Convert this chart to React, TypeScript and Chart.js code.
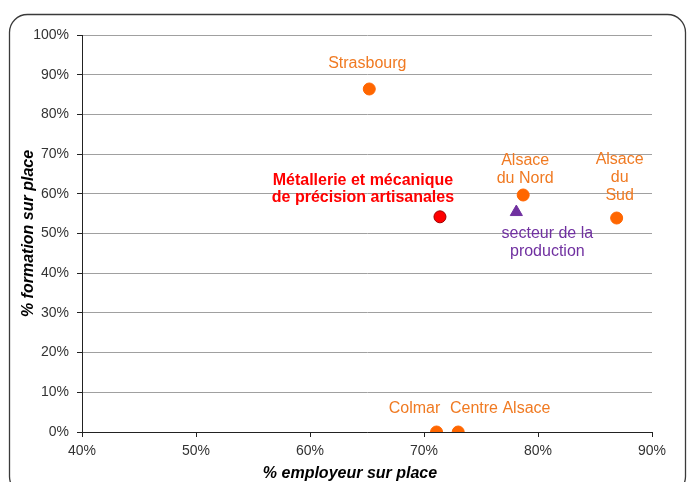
import React, { useEffect, useRef } from "react";
import { Chart, registerables } from "chart.js";

Chart.register(...registerables);

// ---- Data ----
const regionNames = ["Strasbourg", "Colmar", "Centre Alsace", "Alsace du Nord", "Alsace du Sud"];
const regionEmployeur = [65.2, 71.1, 73.0, 78.7, 86.9];
const regionFormation = [86.4, 0, 0, 59.7, 53.9];

const secteurName = "secteur de la production";
const secteurEmployeur = [78.1];
const secteurFormation = [55.4];

const metierName = "Métallerie et mécanique de précision artisanales";
const metierEmployeur = [71.4];
const metierFormation = [54.2];

const xTicks = [40, 50, 60, 70, 80, 90];
const yTicks = [0, 10, 20, 30, 40, 50, 60, 70, 80, 90, 100];
const xTitle = "% employeur sur place";
const yTitle = "% formation sur place";

// label layout (lines, and offset of first line centre from the point)
const regionLabelLines = [["Strasbourg"], ["Colmar"], ["Centre Alsace"], ["Alsace", "du Nord"], ["Alsace", "du", "Sud"]];
const regionLabelOffsets = [[-2, -25], [-22, -23], [42, -23], [2, -34], [3, -58]];
const secteurLabelLines = ["secteur de la", "production"];
const secteurLabelOffset = [31, 22];
const metierLabelLines = ["Métallerie et mécanique", "de précision artisanales"];
const metierLabelOffset = [-77, -36];

const FONT = "'Liberation Sans', Arial, Helvetica, sans-serif";
const ORANGE_TEXT = "#F07A22";
const ORANGE_PT = "#FF6600";
const PURPLE = "#7030A0";
const RED = "#FF0000";

const framePlugin = {
  id: "frame",
  beforeDraw(chart: any) {
    const ctx = chart.ctx;
    ctx.save();
    ctx.fillStyle = "#ffffff";
    ctx.fillRect(0, 0, chart.width, chart.height);
    const x = 9.5, y = 14.5, w = 676, h = 480, r = 18;
    ctx.beginPath();
    ctx.moveTo(x + r, y);
    ctx.lineTo(x + w - r, y);
    ctx.arcTo(x + w, y, x + w, y + r, r);
    ctx.lineTo(x + w, y + h - r);
    ctx.arcTo(x + w, y + h, x + w - r, y + h, r);
    ctx.lineTo(x + r, y + h);
    ctx.arcTo(x, y + h, x, y + h - r, r);
    ctx.lineTo(x, y + r);
    ctx.arcTo(x, y, x + r, y, r);
    ctx.closePath();
    ctx.strokeStyle = "#3a3a3a";
    ctx.lineWidth = 1.3;
    ctx.stroke();
    ctx.restore();
  },
};

const labelsPlugin = {
  id: "pointLabels",
  afterDatasetsDraw(chart: any) {
    const ctx = chart.ctx;
    const xs = chart.scales.x;
    const ys = chart.scales.y;
    const drawBlock = (px: number, py: number, lines: string[], off: number[], color: string, font: string, lh: number) => {
      ctx.fillStyle = color;
      ctx.font = font;
      ctx.textAlign = "center";
      ctx.textBaseline = "middle";
      lines.forEach((l, i) => ctx.fillText(l, px + off[0], py + off[1] + i * lh));
    };
    ctx.save();
    regionNames.forEach((_, i) => {
      const px = xs.getPixelForValue(regionEmployeur[i]);
      const py = ys.getPixelForValue(regionFormation[i]);
      drawBlock(px, py, regionLabelLines[i], regionLabelOffsets[i], ORANGE_TEXT, `16px ${FONT}`, 18);
    });
    drawBlock(xs.getPixelForValue(secteurEmployeur[0]), ys.getPixelForValue(secteurFormation[0]),
      secteurLabelLines, secteurLabelOffset, PURPLE, `16px ${FONT}`, 18);
    drawBlock(xs.getPixelForValue(metierEmployeur[0]), ys.getPixelForValue(metierFormation[0]),
      metierLabelLines, metierLabelOffset, RED, `bold 16px ${FONT}`, 17);

    // x axis title
    ctx.fillStyle = "#000";
    ctx.font = `italic bold 16px ${FONT}`;
    ctx.textAlign = "center";
    ctx.textBaseline = "middle";
    ctx.fillText(xTitle, (xs.left + xs.right) / 2 - 17, 474);
    ctx.restore();
  },
};

export default function App() {
  const ref = useRef<HTMLCanvasElement | null>(null);
  useEffect(() => {
    document.body.style.margin = "0";
    const canvas = ref.current!;
    const chart = new Chart(canvas, {
      type: "scatter",
      data: {
        datasets: [
          {
            label: "régions",
            data: regionEmployeur.map((x, i) => ({ x, y: regionFormation[i] })),
            backgroundColor: ORANGE_PT,
            borderColor: ORANGE_PT,
            borderWidth: 1,
            pointRadius: 6,
            pointStyle: "circle",
          },
          {
            label: secteurName,
            data: secteurEmployeur.map((x, i) => ({ x, y: secteurFormation[i] })),
            backgroundColor: PURPLE,
            borderColor: PURPLE,
            borderWidth: 1,
            pointRadius: 7,
            pointStyle: "triangle",
          },
          {
            label: metierName,
            data: metierEmployeur.map((x, i) => ({ x, y: metierFormation[i] })),
            backgroundColor: RED,
            borderColor: "#A00000",
            borderWidth: 1,
            pointRadius: 6,
            pointStyle: "circle",
          },
        ],
      },
      options: {
        responsive: false,
        animation: false,
        layout: { padding: { left: 0, right: 37, top: 35, bottom: 0 } },
        plugins: { legend: { display: false }, tooltip: { enabled: false } },
        scales: {
          x: {
            type: "linear",
            min: xTicks[0],
            max: xTicks[xTicks.length - 1],
            afterFit: (s: any) => { s.height = 50; },
            afterBuildTicks: (s: any) => { s.ticks = xTicks.map((v) => ({ value: v })); },
            ticks: {
              callback: (v: any) => v + "%",
              font: { family: FONT, size: 14 },
              color: "#333",
              padding: 6,
              maxRotation: 0,
            },
            grid: { drawOnChartArea: false, drawTicks: true, tickLength: 5, tickColor: "#222" },
            border: { color: "#222", width: 1 },
          },
          y: {
            type: "linear",
            min: yTicks[0],
            max: yTicks[yTicks.length - 1],
            afterFit: (s: any) => { s.width = 82; },
            afterBuildTicks: (s: any) => { s.ticks = yTicks.map((v) => ({ value: v })); },
            ticks: {
              callback: (v: any) => v + "%",
              font: { family: FONT, size: 14 },
              color: "#333",
              padding: 8,
            },
            grid: { color: "#a0a0a0", lineWidth: 1, drawTicks: true, tickLength: 5, tickColor: "#222" },
            border: { color: "#222", width: 1 },
            title: {
              display: true,
              text: yTitle,
              font: { family: FONT, size: 16, weight: "bold", style: "italic" },
              color: "#000",
              padding: { top: 19, bottom: 0 },
            },
          },
        },
      },
      plugins: [framePlugin, labelsPlugin],
    } as any);
    return () => chart.destroy();
  }, []);
  return <canvas ref={ref} width={689} height={482} style={{ display: "block" }} />;
}
